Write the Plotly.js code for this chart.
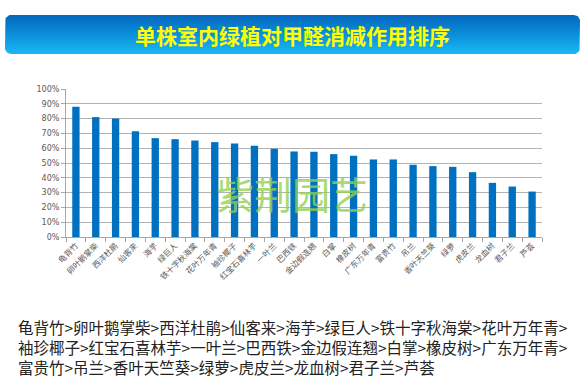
<!DOCTYPE html>
<html><head><meta charset="utf-8">
<script src="https://cdn.plot.ly/plotly-3.0.1.min.js"></script>
<style>html,body{margin:0;padding:0;background:#fff}#chart{width:586px;height:382px}</style>
</head><body><div id="chart"></div>
<script>
const categories = ["龟背竹","卵叶鹅掌柴","西洋杜鹃","仙客来","海芋","绿巨人","铁十字秋海棠","花叶万年青","袖珍椰子","红宝石喜林芋","一叶兰","巴西铁","金边假连翘","白掌","橡皮树","广东万年青","富贵竹","吊兰","香叶天竺葵","绿萝","虎皮兰","龙血树","君子兰","芦荟"];
const values = [0.88,0.81,0.80,0.714,0.668,0.661,0.652,0.641,0.632,0.616,0.596,0.578,0.576,0.560,0.549,0.524,0.524,0.488,0.479,0.474,0.438,0.366,0.341,0.307];
const titleText = "单株室内绿植对甲醛消减作用排序";
const watermark = "紫荆园艺";
const rankingLines = [
  "龟背竹>卵叶鹅掌柴>西洋杜鹃>仙客来>海芋>绿巨人>铁十字秋海棠>花叶万年青>",
  "袖珍椰子>红宝石喜林芋>一叶兰>巴西铁>金边假连翘>白掌>橡皮树>广东万年青>",
  "富贵竹>吊兰>香叶天竺葵>绿萝>虎皮兰>龙血树>君子兰>芦荟"
];

const W = 586, H = 382;
const FONT = "Noto Sans CJK SC, sans-serif";

// rounded rectangle outline for the banner (pixel space of overlay axes)
function roundRect(x0, y0, x1, y1, r) {
  const xs = [], ys = [];
  const corners = [[x1 - r, y0 + r, -90], [x1 - r, y1 - r, 0], [x0 + r, y1 - r, 90], [x0 + r, y0 + r, 180]];
  corners.forEach(([cx, cy, a0]) => {
    for (let k = 0; k <= 8; k++) {
      const a = (a0 + k * 90 / 8) * Math.PI / 180;
      xs.push(cx + r * Math.cos(a)); ys.push(cy + r * Math.sin(a));
    }
  });
  xs.push(xs[0]); ys.push(ys[0]);
  return {xs, ys};
}
const banner = roundRect(5, 15, 580, 54, 6);

const traces = [
  {
    type: "bar", x: categories, y: values, xaxis: "x", yaxis: "y",
    marker: {color: "#0070C0"}, hoverinfo: "x+y"
  },
  {
    type: "scatter", x: banner.xs, y: banner.ys, xaxis: "x2", yaxis: "y2",
    mode: "lines", line: {width: 0}, fill: "toself", hoverinfo: "skip",
    fillgradient: {type: "vertical", start: 15, stop: 54,
      colorscale: [[0, "#0566BC"], [0.5, "#0A8FDA"], [1, "#1CB8F2"]]},
    showlegend: false
  }
];

const annotations = [
  {xref: "x2", yref: "y2", x: 292, y: 35, text: "<b>" + titleText + "</b>", showarrow: false,
   font: {family: FONT, size: 21, color: "#FFFF00"}, xanchor: "center", yanchor: "middle"},
  {xref: "x2", yref: "y2", x: 292, y: 192, text: watermark, showarrow: false,
   font: {family: FONT, size: 38, color: "rgba(146,208,80,0.8)"}, xanchor: "center", yanchor: "middle"},
  {xref: "x2", yref: "y2", x: 16, y: 347, text: rankingLines.join("<br>"), showarrow: false,
   align: "left", font: {family: FONT, size: 15.5, color: "#222222"}, xanchor: "left", yanchor: "middle"}
];

const layout = {
  width: W, height: H,
  margin: {l: 0, r: 0, t: 0, b: 0},
  paper_bgcolor: "#ffffff", plot_bgcolor: "rgba(0,0,0,0)",
  showlegend: false, bargap: 0.63,
  font: {family: FONT},
  xaxis: {
    domain: [66 / W, 542 / W], anchor: "y", type: "category",
    tickangle: -45, tickfont: {family: FONT, size: 8, color: "#595959"},
    showline: true, linecolor: "#A6A6A6", linewidth: 1,
    ticks: "outside", tickson: "boundaries", ticklen: 4, tickcolor: "#A6A6A6",
    showgrid: false, zeroline: false, fixedrange: true
  },
  yaxis: {
    domain: [(H - 237) / H, (H - 89) / H], anchor: "x",
    range: [0, 1], dtick: 0.1, tickformat: ".0%",
    tickfont: {family: "DejaVu Sans, sans-serif", size: 8, color: "#595959"},
    showline: true, linecolor: "#A6A6A6", linewidth: 1,
    ticks: "outside", ticklen: 4, tickcolor: "#A6A6A6",
    showgrid: true, gridcolor: "#B3B3B3", gridwidth: 1, zeroline: false, fixedrange: true
  },
  xaxis2: {domain: [0, 1], anchor: "y2", range: [0, W], visible: false, fixedrange: true},
  yaxis2: {domain: [0, 1], anchor: "x2", range: [H, 0], visible: false, fixedrange: true},
  annotations: annotations
};

Plotly.newPlot("chart", traces, layout, {displayModeBar: false, staticPlot: true});
</script></body></html>
